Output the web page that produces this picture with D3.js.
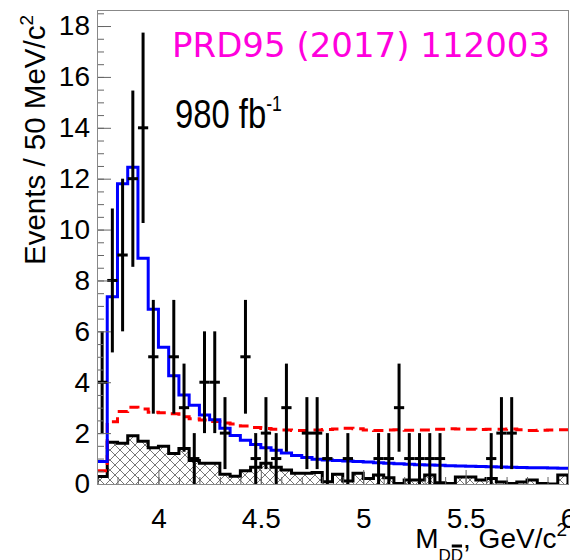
<!DOCTYPE html>
<html>
<head>
<meta charset="utf-8">
<script src="https://cdn.jsdelivr.net/npm/d3@7"></script>
<style>
  body { margin: 0; background: #fff; }
  text { font-family: "Liberation Sans", Arial, sans-serif; }
</style>
</head>
<body>
<svg id="chart" width="570" height="560"></svg>
<script>
// binning of M(DDbar), GeV/c^2
var binStart = 3.70;
var binWidth = 0.05;
var xRange = [3.70, 6.0];
var yRange = [0, 18.63];

// events per bin (data points)
var dataCounts = [4, 8, 9, 12, 14, 5, 0, 5, 3, 1,
                  4, 4, 2, 0, 5, 1, 2, 1, 3, 0,
                  2, 2, 1, 0, 1, 0, 0, 1, 1, 3,
                  1, 1, 1, 1, 0, 0, 0, 0, 1, 2,
                  2, 0, 0, 0, 0, 0];

// total fit (blue)
var totalFit = [0.88, 7.36, 11.8, 12.45, 8.87, 6.87, 5.37, 4.25, 3.5, 3.1,
                2.71, 2.53, 2.19, 1.91, 1.72, 1.55, 1.42, 1.33, 1.22, 1.12,
                1.04, 0.97, 0.94, 0.92, 0.9, 0.88, 0.86, 0.84, 0.82, 0.8,
                0.78, 0.76, 0.75, 0.74, 0.72, 0.71, 0.7, 0.69, 0.68, 0.67,
                0.66, 0.65, 0.64, 0.64, 0.63, 0.62];

// background hypothesis (red dashed)
var bkgFit = [0.52, 2.45, 2.85, 3.02, 2.95, 2.82, 2.8, 2.76, 2.64, 2.56,
              2.52, 2.46, 2.4, 2.36, 2.28, 2.22, 2.18, 2.15, 2.12, 2.1,
              2.1, 2.12, 2.14, 2.16, 2.19, 2.17, 2.12, 2.1, 2.12, 2.13,
              2.11, 2.12, 2.12, 2.15, 2.17, 2.16, 2.15, 2.14, 2.15, 2.15,
              2.16, 2.13, 2.1, 2.11, 2.12, 2.13];

// sideband background (black, hatched)
var sideband = [0.29, 1.64, 1.6, 1.9, 1.68, 1.42, 1.48, 1.2, 1.4, 0.92,
                0.82, 0.82, 0.38, 0.3, 0.52, 0.66, 0.82, 0.66, 0.55, 0.42,
                0.42, 0.45, 0.09, 0.38, 0.12, 0.42, 0.22, 0.35, 0.25, 0.02,
                0.16, 0.16, 0.35, 0.05, 0.02, 0.28, 0.28, 0.16, 0.22, 0.08,
                0.02, 0.08, 0.16, 0.02, 0.0, 0.35];

var xTicks = [4, 4.5, 5, 5.5, 6];
var yTicks = [0, 2, 4, 6, 8, 10, 12, 14, 16, 18];

var svg = d3.select('#chart');
var frameL = 97, frameR = 568, frameT = 10, frameB = 484;

var x = d3.scaleLinear().domain(xRange).range([frameL, frameR]);
var y = d3.scaleLinear().domain(yRange).range([frameB, frameT]);

svg.append('defs').call(function(defs) {
  defs.append('clipPath').attr('id', 'frame')
    .append('rect')
    .attr('x', frameL).attr('y', frameT)
    .attr('width', frameR - frameL).attr('height', frameB - frameT);
  defs.append('pattern')
    .attr('id', 'hatch')
    .attr('patternUnits', 'userSpaceOnUse')
    .attr('width', 10).attr('height', 10)
    .append('path')
    .attr('d', 'M0,0L10,10M10,0L0,10')
    .attr('stroke', '#777')
    .attr('stroke-width', 1);
});

function histPoints(values) {
  var pts = values.map(function(v, i) { return [binStart + i * binWidth, v]; });
  pts.push([binStart + values.length * binWidth, values[values.length - 1]]);
  return pts;
}

var stepLine = d3.line()
  .x(function(d) { return x(d[0]); })
  .y(function(d) { return y(d[1]); })
  .curve(d3.curveStepAfter);

var stepArea = d3.area()
  .x(function(d) { return x(d[0]); })
  .y0(y(0))
  .y1(function(d) { return y(d[1]); })
  .curve(d3.curveStepAfter);

var plot = svg.append('g').attr('clip-path', 'url(#frame)');

// hatched sideband histogram
plot.append('path')
  .datum(histPoints(sideband))
  .attr('d', stepArea)
  .attr('fill', 'url(#hatch)');

plot.append('path')
  .datum(histPoints(sideband))
  .attr('d', function(d) {
    var closed = [[d[0][0], 0]].concat(d).concat([[d[d.length - 1][0], 0]]);
    return stepLine(closed);
  })
  .attr('fill', 'none')
  .attr('stroke', '#000')
  .attr('stroke-width', 3);

// red dashed
plot.append('path')
  .datum(histPoints(bkgFit))
  .attr('d', stepLine)
  .attr('fill', 'none')
  .attr('stroke', '#ff0000')
  .attr('stroke-width', 3)
  .attr('stroke-dasharray', '10,6');

// blue total
plot.append('path')
  .datum(histPoints(totalFit))
  .attr('d', stepLine)
  .attr('fill', 'none')
  .attr('stroke', '#0000ff')
  .attr('stroke-width', 3);

// data points with sqrt(N) errors
var pts = dataCounts.map(function(c, i) {
  return { x: binStart + (i + 0.5) * binWidth, n: c };
}).filter(function(d) { return d.n > 0; });

var bars = plot.append('g').selectAll('g')
  .data(pts)
  .enter()
  .append('g')
  .attr('stroke', '#000')
  .attr('stroke-width', 3);

bars.append('line')
  .attr('x1', function(d) { return x(d.x); })
  .attr('x2', function(d) { return x(d.x); })
  .attr('y1', function(d) { return y(d.n - Math.sqrt(d.n)); })
  .attr('y2', function(d) { return y(d.n + Math.sqrt(d.n)); });

bars.append('line')
  .attr('x1', function(d) { return x(d.x - binWidth / 2); })
  .attr('x2', function(d) { return x(d.x + binWidth / 2); })
  .attr('y1', function(d) { return y(d.n); })
  .attr('y2', function(d) { return y(d.n); });

// axes, ticks pointing inward
var axisColor = '#666';

var yMinor = d3.range(0, 18.6, 0.5);
var xMinor = d3.range(3.7, 6.01, 0.1);

svg.append('g')
  .attr('transform', 'translate(' + frameL + ',0)')
  .call(d3.axisLeft(y).tickValues(yMinor).tickSize(-7).tickFormat(''))
  .call(function(g) { g.select('.domain').remove(); });

svg.append('g')
  .attr('transform', 'translate(' + frameL + ',0)')
  .call(d3.axisLeft(y).tickValues(yTicks).tickSize(-14).tickPadding(7).tickFormat(d3.format('d')))
  .call(function(g) { g.select('.domain').remove(); });

svg.append('g')
  .attr('transform', 'translate(0,' + frameB + ')')
  .call(d3.axisBottom(x).tickValues(xMinor).tickSize(-7).tickFormat(''))
  .call(function(g) { g.select('.domain').remove(); });

svg.append('g')
  .attr('transform', 'translate(0,' + frameB + ')')
  .call(d3.axisBottom(x).tickValues(xTicks).tickSize(-14).tickPadding(24).tickFormat(d3.format('')))
  .call(function(g) { g.select('.domain').remove(); });

svg.selectAll('.tick line').attr('stroke', axisColor);
svg.selectAll('.tick text')
  .style('font-family', '"Liberation Sans", Arial, sans-serif')
  .attr('font-size', 28)
  .attr('fill', '#000');

// frame
svg.append('rect')
  .attr('x', frameL + 0.5).attr('y', frameT + 0.5)
  .attr('width', frameR - frameL).attr('height', frameB - frameT)
  .attr('fill', 'none')
  .attr('stroke', '#888')
  .attr('stroke-width', 1);

// y title
var yTitle = svg.append('text')
  .attr('transform', 'translate(45,15) rotate(-90)')
  .attr('text-anchor', 'end')
  .attr('font-size', 29.5);
yTitle.append('tspan').text('Events / 50 MeV/c');
yTitle.append('tspan').attr('font-size', 19).attr('dy', -12).text('2');

// x title
var xTitle = svg.append('text')
  .attr('x', 567).attr('y', 548)
  .attr('text-anchor', 'end')
  .attr('font-size', 28);
xTitle.append('tspan').text('M');
xTitle.append('tspan').attr('font-size', 17).attr('dy', 13).text('DD');
xTitle.append('tspan').attr('dy', -13).text(', GeV/c');
xTitle.append('tspan').attr('font-size', 19).attr('dy', -12).text('2');

var node = xTitle.node();
var s = node.getStartPositionOfChar(2).x;
var e = node.getEndPositionOfChar(2).x;
svg.append('line')
  .attr('x1', s + 1).attr('x2', e - 1)
  .attr('y1', 546).attr('y2', 546)
  .attr('stroke', '#000')
  .attr('stroke-width', 3);

// reference and luminosity
svg.append('text')
  .attr('x', 172).attr('y', 57)
  .style('font-family', '"DejaVu Sans", sans-serif')
  .attr('font-size', 34)
  .attr('fill', '#ff00dd')
  .text('PRD95 (2017) 112003');

var lumi = svg.append('text')
  .attr('transform', 'translate(175,128) scale(0.8,1)')
  .attr('font-size', 41)
  .attr('fill', '#000');
lumi.append('tspan').text('980 fb');
lumi.append('tspan').attr('font-size', 22).attr('dy', -17).text('-1');
</script>
</body>
</html>
